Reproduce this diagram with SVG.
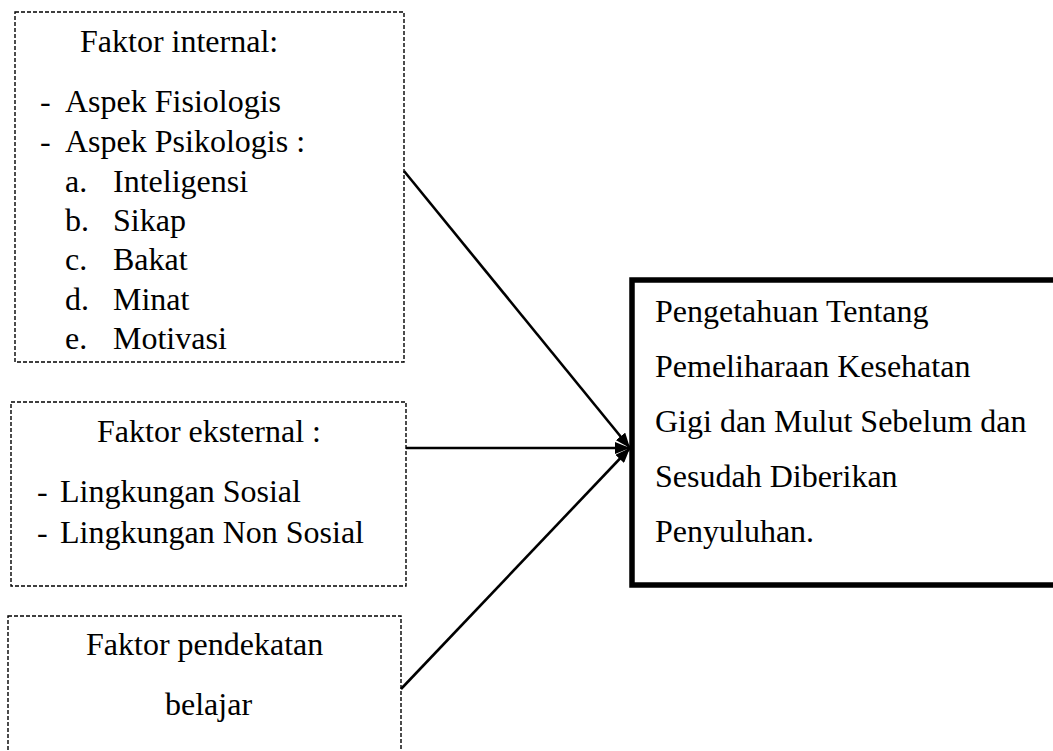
<svg xmlns="http://www.w3.org/2000/svg" width="1053" height="751" viewBox="0 0 1053 751">
<style>
.t{font-family:"Liberation Serif","Times New Roman",serif;font-size:32px;fill:#000}
.dash{fill:#fff;stroke:#000;stroke-width:1.4;stroke-dasharray:4 2}
.conn{stroke:#000;stroke-width:2.6;fill:none}
</style>
<defs>
<marker id="ah" viewBox="0 0 15 12" refX="15" refY="6" markerWidth="15" markerHeight="12" markerUnits="userSpaceOnUse" orient="auto">
<path d="M0,0 L15,6 L0,12 Z" fill="#000"/>
</marker>
</defs>
<rect width="1053" height="751" fill="#fff"/>
<g id="internal">
<rect class="dash" x="15" y="12" width="389" height="350"/>
<text class="t" x="80" y="52">Faktor internal:</text>
<text class="t" x="40" y="112">-</text><text class="t" x="65" y="112">Aspek Fisiologis</text>
<text class="t" x="40" y="152">-</text><text class="t" x="65" y="152">Aspek Psikologis :</text>
<text class="t" x="65" y="192">a.</text><text class="t" x="113" y="192">Inteligensi</text>
<text class="t" x="65" y="231">b.</text><text class="t" x="113" y="231">Sikap</text>
<text class="t" x="65" y="270">c.</text><text class="t" x="113" y="270">Bakat</text>
<text class="t" x="65" y="310">d.</text><text class="t" x="113" y="310">Minat</text>
<text class="t" x="65" y="349">e.</text><text class="t" x="113" y="349">Motivasi</text>
</g>
<g id="eksternal">
<rect class="dash" x="11" y="402" width="395" height="184"/>
<text class="t" x="97" y="442">Faktor eksternal :</text>
<text class="t" x="37" y="502">-</text><text class="t" x="60" y="502">Lingkungan Sosial</text>
<text class="t" x="37" y="543">-</text><text class="t" x="60" y="543">Lingkungan Non Sosial</text>
</g>
<g id="pendekatan">
<rect class="dash" x="8" y="616" width="393" height="160"/>
<text class="t" x="86" y="655">Faktor pendekatan</text>
<text class="t" x="165" y="715">belajar</text>
</g>
<g id="pengetahuan">
<rect x="632" y="280" width="430" height="305" fill="none" stroke="#000" stroke-width="5.5"/>
<text class="t" x="655" y="322">Pengetahuan Tentang</text>
<text class="t" x="655" y="377">Pemeliharaan Kesehatan</text>
<text class="t" x="655" y="432">Gigi dan Mulut Sebelum dan</text>
<text class="t" x="655" y="487">Sesudah Diberikan</text>
<text class="t" x="655" y="542">Penyuluhan.</text>
</g>
<g id="connectors">
<line class="conn" x1="404" y1="171" x2="630" y2="448" marker-end="url(#ah)"/>
<line class="conn" x1="406" y1="448" x2="630" y2="448" stroke-width="2" marker-end="url(#ah)"/>
<line class="conn" x1="401" y1="689" x2="630" y2="448" marker-end="url(#ah)"/>
</g>
</svg>
